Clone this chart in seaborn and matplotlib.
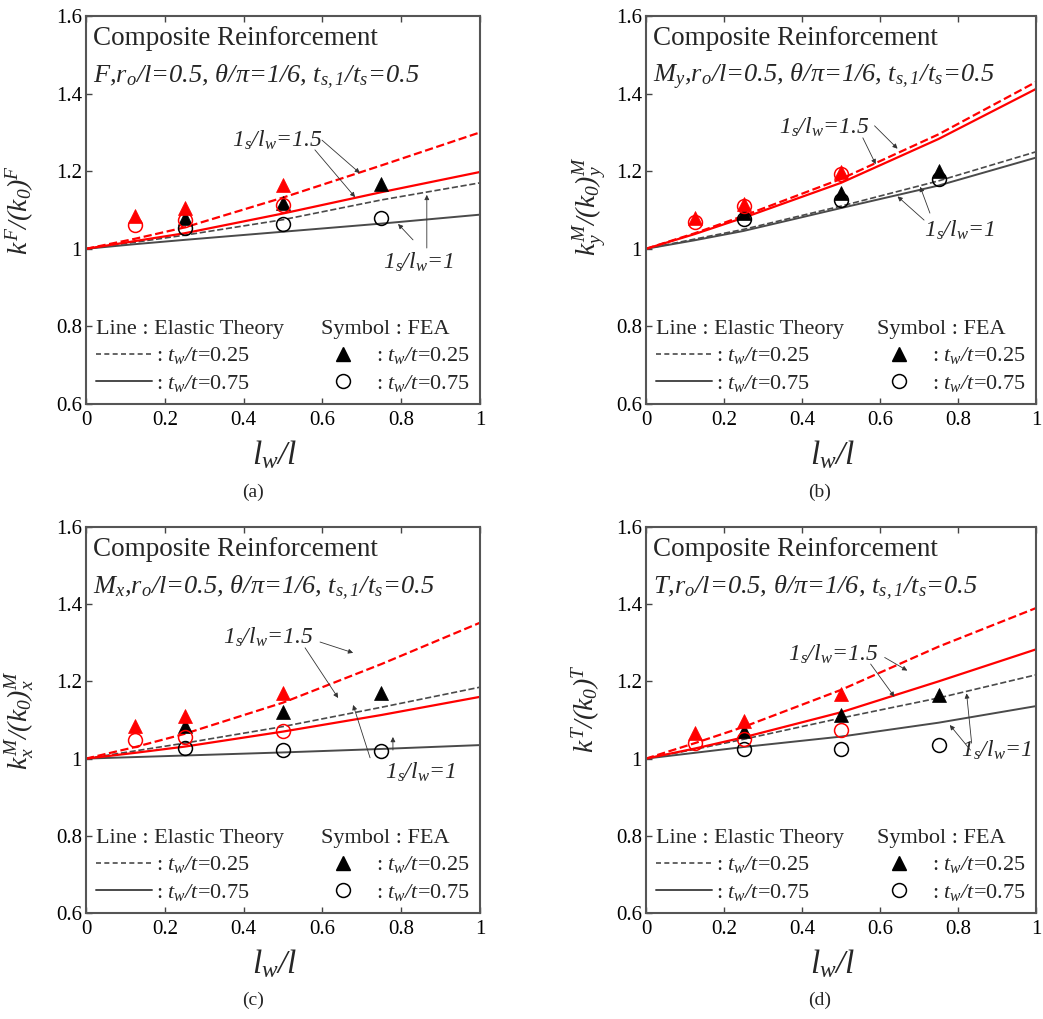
import matplotlib
matplotlib.use("Agg")
import matplotlib.pyplot as plt
from matplotlib.lines import Line2D
from matplotlib.ticker import FixedLocator, FormatStrFormatter
import seaborn as sns
import pandas as pd

# x positions of the theory curves and the FEA points
x_line = [0, 0.125, 0.25, 0.5, 0.75, 1.0]
x_red_fea = [0.125, 0.25, 0.5]
x_blk_fea = [0.25, 0.5, 0.75]

# (a) F
F_red_dashed = [1.0, 1.026, 1.055, 1.132, 1.215, 1.300]
F_red_solid = [1.0, 1.020, 1.040, 1.091, 1.146, 1.198]
F_blk_dashed = [1.0, 1.017, 1.035, 1.075, 1.126, 1.170]
F_blk_solid = [1.0, 1.012, 1.023, 1.044, 1.065, 1.088]
F_red_tri = [1.085, 1.106, 1.164]
F_red_circ = [1.061, 1.074, 1.113]
F_blk_tri = [1.079, 1.118, 1.166]
F_blk_circ = [1.053, 1.064, 1.079]

# (b) My
My_red_dashed = [1.0, 1.040, 1.085, 1.180, 1.295, 1.430]
My_red_solid = [1.0, 1.038, 1.080, 1.170, 1.283, 1.412]
My_blk_dashed = [1.0, 1.025, 1.050, 1.110, 1.175, 1.250]
My_blk_solid = [1.0, 1.022, 1.046, 1.105, 1.163, 1.235]
My_red_tri = [1.079, 1.115, 1.199]
My_red_circ = [1.070, 1.110, 1.193]
My_blk_tri = [1.092, 1.143, 1.200]
My_blk_circ = [1.078, 1.126, 1.180]

# (c) Mx
Mx_red_dashed = [1.0, 1.030, 1.064, 1.145, 1.245, 1.352]
Mx_red_solid = [1.0, 1.015, 1.031, 1.070, 1.113, 1.160]
Mx_blk_dashed = [1.0, 1.020, 1.040, 1.083, 1.133, 1.185]
Mx_blk_solid = [1.0, 1.004, 1.008, 1.016, 1.025, 1.035]
Mx_red_tri = [1.084, 1.110, 1.170]
Mx_red_circ = [1.048, 1.056, 1.071]
Mx_blk_tri = [1.084, 1.120, 1.170]
Mx_blk_circ = [1.027, 1.022, 1.020]

# (d) T
T_red_dashed = [1.0, 1.040, 1.082, 1.178, 1.290, 1.390]
T_red_solid = [1.0, 1.026, 1.055, 1.120, 1.200, 1.283]
T_blk_dashed = [1.0, 1.024, 1.050, 1.105, 1.157, 1.217]
T_blk_solid = [1.0, 1.015, 1.030, 1.057, 1.093, 1.136]
T_red_tri = [1.066, 1.097, 1.167]
T_red_circ = [1.040, 1.050, 1.074]
T_blk_tri = [1.072, 1.113, 1.165]
T_blk_circ = [1.025, 1.025, 1.035]

ylabels = [r"$k^F/(k_0)^F$", r"$k_y^M/(k_0)_y^M$",
           r"$k_x^M/(k_0)_x^M$", r"$k^T/(k_0)^T$"]
load_names = ["F", "M$_y$", "M$_x$", "T"]
param_tail = ",r$_o$/l=0.5, θ/π=1/6, t$_{s,1}$/t$_s$=0.5"
captions = ["(a)", "(b)", "(c)", "(d)"]

# annotation label positions and arrows (data coords): (text_xy, [(from, to), ...])
ann15 = [((0.37, 1.28), [((0.599, 1.280), (0.695, 1.195)), ((0.581, 1.255), (0.683, 1.133))]),
         ((0.34, 1.314), [((0.586, 1.317), (0.645, 1.258)), ((0.556, 1.286), (0.589, 1.218))]),
         ((0.348, 1.315), [((0.594, 1.302), (0.678, 1.274)), ((0.556, 1.287), (0.640, 1.157))]),
         ((0.365, 1.269), [((0.612, 1.262), (0.670, 1.228)), ((0.576, 1.245), (0.637, 1.160))])]
ann1 = [((0.754, 0.966), [((0.865, 1.002), (0.865, 1.139)), ((0.830, 1.023), (0.792, 1.064))]),
        ((0.713, 1.048), [((0.713, 1.074), (0.645, 1.135)), ((0.728, 1.092), (0.703, 1.160))]),
        ((0.759, 0.965), [((0.721, 1.002), (0.678, 1.139)), ((0.779, 1.022), (0.779, 1.056))]),
        ((0.808, 1.022), [((0.835, 1.040), (0.822, 1.169)), ((0.832, 1.022), (0.779, 1.087))])]

sns.set_theme(style="ticks")
plt.rcParams["font.family"] = ["Liberation Serif", "DejaVu Serif"]
plt.rcParams["mathtext.fontset"] = "custom"
plt.rcParams["mathtext.rm"] = "Liberation Serif:italic"
plt.rcParams["mathtext.it"] = "Liberation Serif:italic"
plt.rcParams["mathtext.bf"] = "Liberation Serif:bold"

RED = "#ff0000"
GRAY = "#4a4a4a"

panels = [
    (F_red_dashed, F_red_solid, F_blk_dashed, F_blk_solid, F_red_tri, F_red_circ, F_blk_tri, F_blk_circ),
    (My_red_dashed, My_red_solid, My_blk_dashed, My_blk_solid, My_red_tri, My_red_circ, My_blk_tri, My_blk_circ),
    (Mx_red_dashed, Mx_red_solid, Mx_blk_dashed, Mx_blk_solid, Mx_red_tri, Mx_red_circ, Mx_blk_tri, Mx_blk_circ),
    (T_red_dashed, T_red_solid, T_blk_dashed, T_blk_solid, T_red_tri, T_red_circ, T_blk_tri, T_blk_circ),
]

W, H = 1043, 1019
fig = plt.figure(figsize=(W / 100, H / 100), dpi=100)
boxes = [(86, 16, 394, 388), (646, 16, 390, 388), (86, 527, 394, 386), (646, 527, 390, 386)]
ylab_pos = [(-0.128, 0.50), (-0.098, 0.51), (-0.128, 0.50), (-0.112, 0.53)]
cap_pos = [(253, 492), (820, 492), (253, 1000), (820, 1000)]


def arrow(ax, start, end):
    ax.annotate("", xy=end, xytext=start,
                arrowprops=dict(arrowstyle="-|>", lw=0.6, color="#333333",
                                mutation_scale=7, shrinkA=0, shrinkB=0))


for i, (px, py, pw, ph) in enumerate(boxes):
    ax = fig.add_axes([px / W, 1 - (py + ph) / H, pw / W, ph / H])
    rd, rs, bd, bs, rt, rc, bt, bc = panels[i]

    # theory curves
    sns.lineplot(x=x_line, y=bd, ax=ax, color=GRAY, lw=1.2, dashes=(3.5, 2.0), linestyle="--")
    sns.lineplot(x=x_line, y=bs, ax=ax, color=GRAY, lw=1.4)
    sns.lineplot(x=x_line, y=rd, ax=ax, color=RED, lw=1.6, dashes=(3.5, 2.0), linestyle="--")
    sns.lineplot(x=x_line, y=rs, ax=ax, color=RED, lw=1.6)

    # FEA symbols
    fea = pd.DataFrame({"x": x_blk_fea, "tri": bt, "circ": bc})
    sns.lineplot(data=fea, x="x", y="circ", ax=ax, linestyle="", marker="o", markersize=10,
                 markerfacecolor="none", markeredgecolor="black", markeredgewidth=1.1)
    sns.lineplot(data=fea, x="x", y="tri", ax=ax, linestyle="", marker="^", markersize=10,
                 markerfacecolor="black", markeredgecolor="black", markeredgewidth=0.5)
    fea_r = pd.DataFrame({"x": x_red_fea, "tri": rt, "circ": rc})
    sns.lineplot(data=fea_r, x="x", y="circ", ax=ax, linestyle="", marker="o", markersize=10,
                 markerfacecolor="none", markeredgecolor=RED, markeredgewidth=1.1)
    sns.lineplot(data=fea_r, x="x", y="tri", ax=ax, linestyle="", marker="^", markersize=10,
                 markerfacecolor=RED, markeredgecolor=RED, markeredgewidth=0.5)

    ax.set_xlim(0, 1)
    ax.set_ylim(0.6, 1.6)
    ax.xaxis.set_major_locator(FixedLocator([0, 0.2, 0.4, 0.6, 0.8, 1.0]))
    ax.yaxis.set_major_locator(FixedLocator([0.6, 0.8, 1.0, 1.2, 1.4, 1.6]))
    ax.xaxis.set_major_formatter(FormatStrFormatter("%g"))
    ax.yaxis.set_major_formatter(FormatStrFormatter("%g"))
    ax.tick_params(direction="in", top=True, right=False, length=4, width=1.0,
                   color="#444444", labelsize=15, labelcolor="black")
    ax.tick_params(axis="x", pad=5)
    ax.tick_params(axis="y", pad=3)
    for s in ax.spines.values():
        s.set_visible(True)
        s.set_color("#555555")
        s.set_linewidth(1.5)

    ax.set_xlabel(r"$l_w/l$", fontsize=24)
    ax.xaxis.set_label_coords(0.48, -0.088)
    ax.set_ylabel(ylabels[i], fontsize=20)
    ax.yaxis.set_label_coords(*ylab_pos[i])

    ax.text(0.018, 0.925, "Composite Reinforcement", transform=ax.transAxes,
            fontsize=19.5, va="baseline", ha="left")
    ax.text(0.018, 0.828, load_names[i] + param_tail, transform=ax.transAxes,
            fontsize=19, fontstyle="italic", va="baseline", ha="left")

    # ls/lw annotations
    (tx, ty), arrows = ann15[i]
    ax.text(tx, ty, "1$_s$/l$_w$=1.5", fontsize=17, fontstyle="italic",
            va="center", ha="left")
    for start, end in arrows:
        arrow(ax, start, end)
    (tx, ty), arrows = ann1[i]
    ax.text(tx, ty, "1$_s$/l$_w$=1", fontsize=17, fontstyle="italic",
            va="center", ha="left")
    for start, end in arrows:
        arrow(ax, start, end)

    # legends
    line_h = [Line2D([], [], color=GRAY, lw=1.2, linestyle=(0, (3, 2))),
              Line2D([], [], color=GRAY, lw=1.4)]
    leg1 = ax.legend(line_h, [": $t_w/t$=0.25", ": $t_w/t$=0.75"],
                     title="Line : Elastic Theory", loc="lower left",
                     bbox_to_anchor=(0.0, 0.0), frameon=False, fontsize=16,
                     title_fontsize=16, handlelength=2.5, handletextpad=0.2,
                     labelspacing=0.3, borderaxespad=0.25, borderpad=0.2,
                     alignment="left")
    ax.add_artist(leg1)
    sym_h = [Line2D([], [], color="black", marker="^", linestyle="", markersize=10),
             Line2D([], [], color="black", marker="o", linestyle="", markersize=10,
                    markerfacecolor="none", markeredgewidth=1.1)]
    ax.legend(sym_h, [": $t_w/t$=0.25", ": $t_w/t$=0.75"],
              title="Symbol : FEA", loc="lower right", bbox_to_anchor=(1.0, 0.0),
              frameon=False, fontsize=16, title_fontsize=16, handlelength=2.0,
              handletextpad=0.5, labelspacing=0.3, borderaxespad=0.25,
              borderpad=0.2, alignment="left")

    fig.text(cap_pos[i][0] / W, 1 - cap_pos[i][1] / H, captions[i],
             fontsize=14, ha="center", va="center")

fig.savefig("out.png", dpi=100)
